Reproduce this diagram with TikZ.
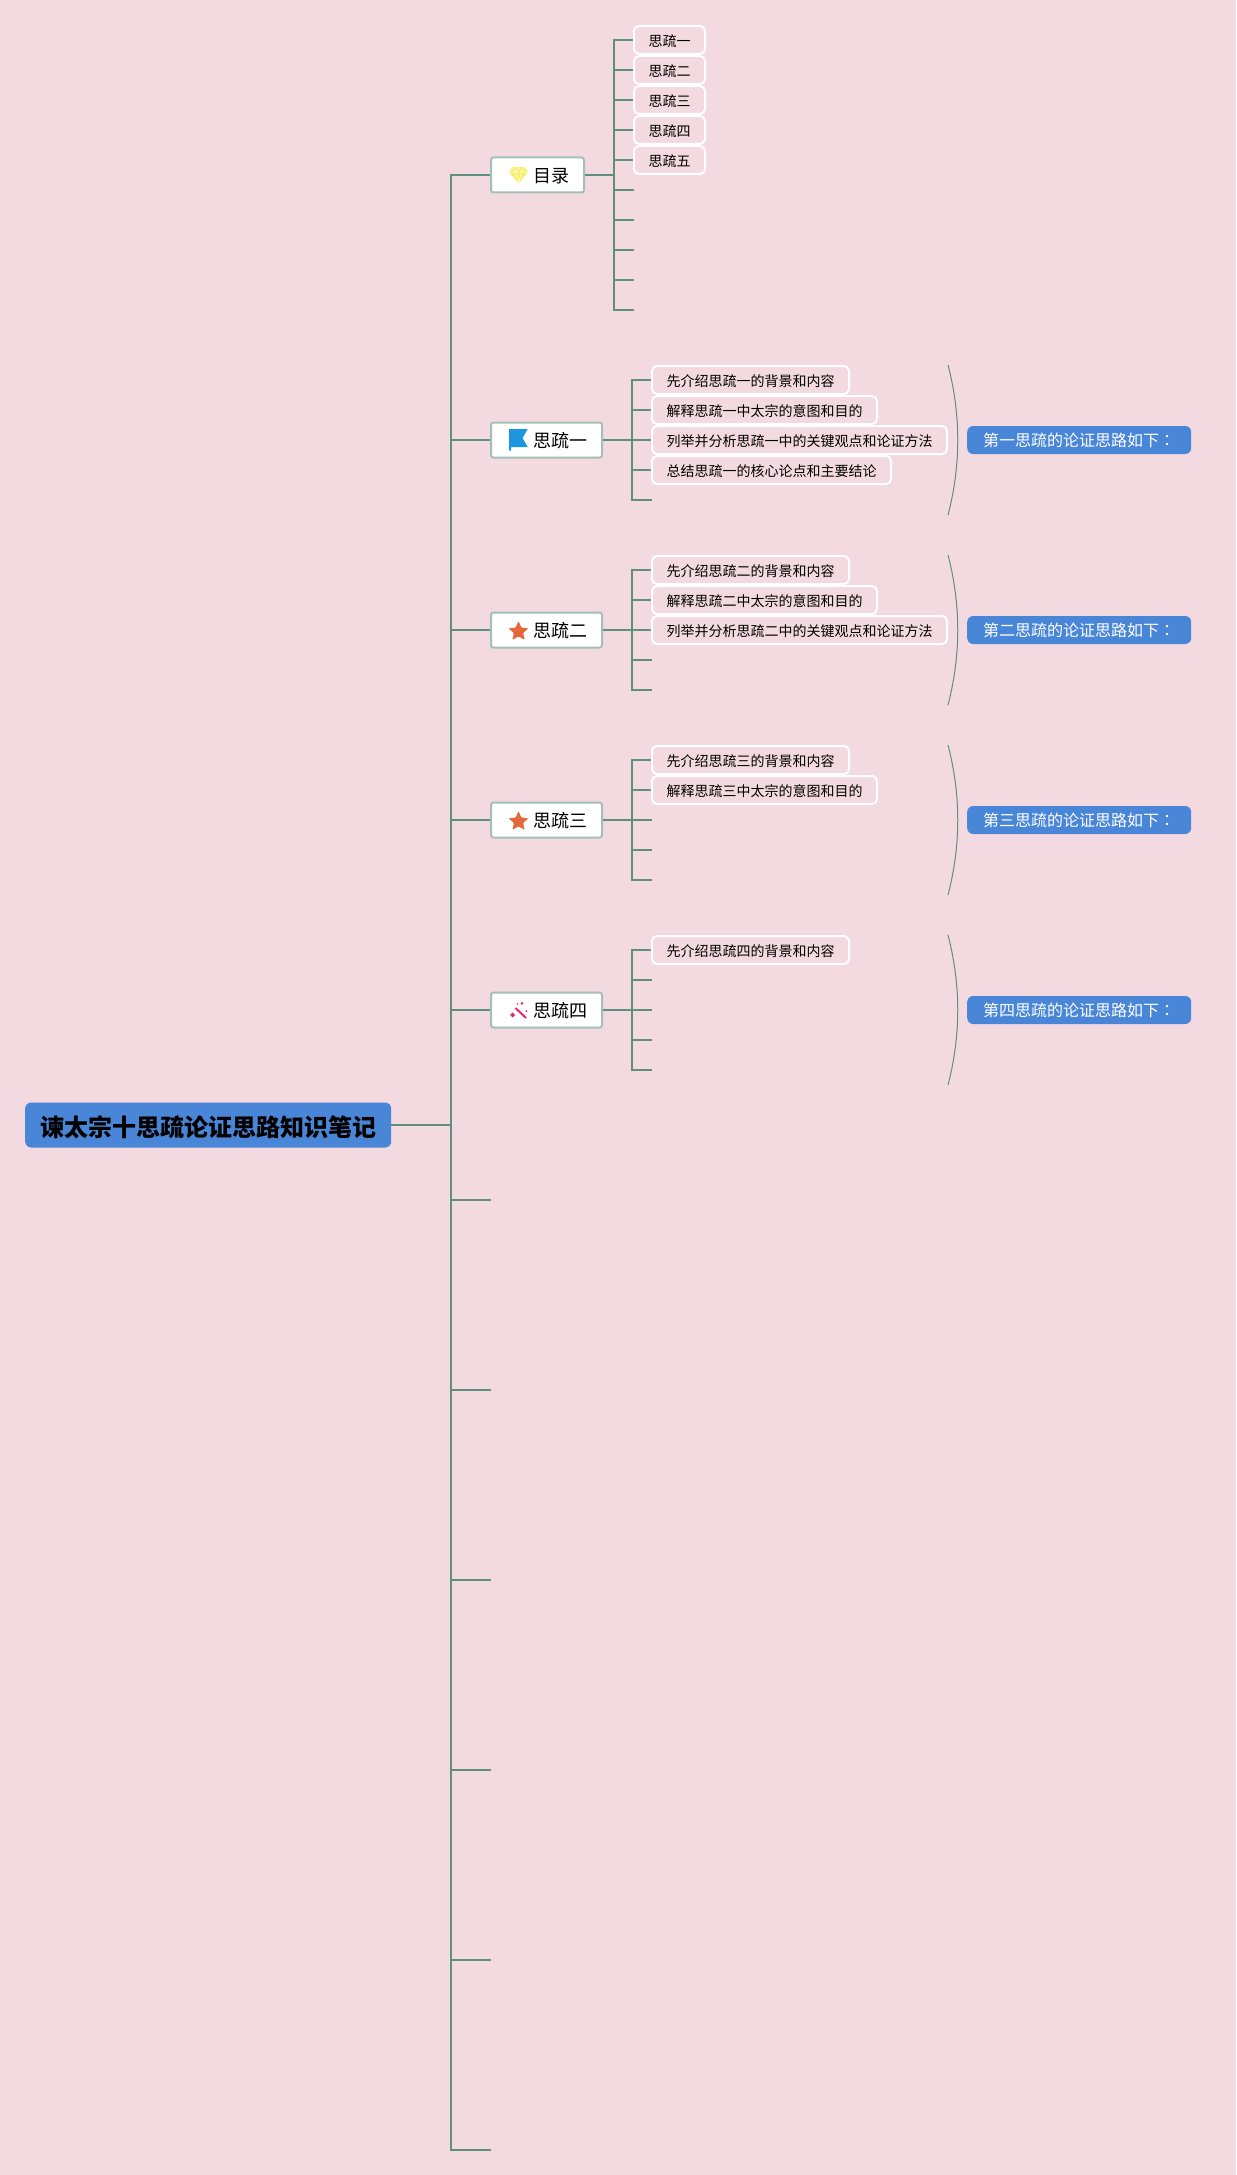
\documentclass[tikz,border=0pt]{standalone}
\usepackage{fontspec}
\setmainfont{Noto Sans CJK SC}
\newfontfamily\tcfont{Noto Sans CJK TC}
\definecolor{bgpink}{HTML}{F3DAE1}
\definecolor{linkgreen}{HTML}{5F8F80}
\definecolor{boxgreen}{HTML}{A3BFB6}
\definecolor{capblue}{HTML}{4A86D8}
\definecolor{gemyellow}{HTML}{F8EE6E}
\definecolor{flagblue}{HTML}{1B96DF}
\definecolor{starorange}{HTML}{E5683A}
\definecolor{wandpink}{HTML}{E5286C}
\newcommand{\cnnum}[1]{\ifcase#1\or 一\or 二\or 三\or 四\or 五\fi}
\tikzset{%
  rootnode/.style   = {shape=rectangle, rounded corners=6pt, fill=capblue, anchor=west,%
                       minimum height=45pt, inner xsep=15pt, inner ysep=0pt, text height=26pt, text depth=3pt,%
                       font=\fontsize{24}{26}\selectfont\bfseries},%
  branchnode/.style = {shape=rectangle, rounded corners=2.5pt, draw=boxgreen, fill=white, line width=2pt, anchor=west,%
                       minimum height=35pt, inner xsep=15pt, inner ysep=0pt, text height=17.5pt, text depth=1.7pt,%
                       execute at begin node=\hspace*{27pt},%
                       font=\fontsize{18}{20}\selectfont},%
  leafnode/.style   = {shape=rectangle, rounded corners=5pt, draw=white, line width=2pt, anchor=west,%
                       minimum height=28pt, inner xsep=14.5pt, inner ysep=0pt, text height=14pt, text depth=.2pt,%
                       font=\fontsize{14}{16}\selectfont},%
  notenode/.style   = {shape=rectangle, rounded corners=6pt, fill=capblue, text=white, anchor=west,%
                       minimum height=28pt, inner xsep=16pt, inner ysep=0pt, text height=14pt, text depth=2pt,%
                       font=\fontsize{16}{18}\selectfont},%
  link/.style       = {draw=linkgreen, line width=2pt},%
  brace/.style      = {draw=linkgreen!80!gray, line width=1pt},%
  gemmark/.pic      = {\fill[gemyellow] (-6,-8) -- (6,-8) -- (9.5,-3) -- (0,8.5) -- (-9.5,-3) -- cycle;
                       \draw[white!70!gemyellow, line width=.6pt] (-9.5,-3) -- (9.5,-3) (-6,-8) -- (-3,-3) -- (0,-8) -- (3,-3) -- (6,-8) (-3,-3) -- (0,8.5) -- (3,-3);},%
  flagmark/.pic     = {\fill[flagblue] (-9.5,-11) -- (9.2,-11) -- (4,-2) -- (9.2,7) -- (-7.5,7) -- (-7.5,10.5) -- (-9.5,10.5) -- cycle;},%
  starmark/.pic     = {\fill[starorange, rounded corners=1pt, shift={(0,1.5)}] (0,-10.5) -- (2.82,-3.88) -- (9.99,-3.24) -- (4.57,1.48) -- (6.17,8.49) -- (0,4.8) -- (-6.17,8.49) -- (-4.57,1.48) -- (-9.99,-3.24) -- (-2.82,-3.88) -- cycle;},%
  wandmark/.pic     = {\draw[wandpink, line width=2pt] (-3,-2) -- (7.5,8);
                       \fill[wandpink] (-5.8,2.5) -- (-3.3,5) -- (-5.8,7.5) -- (-8.3,5) -- cycle (3.5,-6.7) circle (1.5) (8,1) circle (1) (-1,-6) circle (.8);}%
}
\begin{document}
\begin{tikzpicture}[x=1pt,y=-1pt]
		\useasboundingbox (0,0) rectangle (1236,2175);
		\fill[bgpink] (0,0) rectangle (1236,2175);
		\node[rootnode] (root) at (25,1125) {谏太宗十思疏论证思路知识笔记};
		\coordinate (trunk) at (451,1125);
		\draw[link] (root.east) -- (trunk);
		\node[branchnode] (catalog) at (490,175) {目录};
		\pic at (518.5,175) {gemmark};
		\draw[link] (trunk) |- (catalog.west);
		\coordinate (spine0) at (614,175);
		\draw[link] (catalog.east) -- (spine0);
		\foreach \k in {1,...,10}{
			\coordinate (tick0\k) at (634,{10+30*\k});
			\draw[link] (spine0) |- (tick0\k);
		}
		\foreach \k in {1,...,5}
			\node[leafnode] (toc\k) at (633,{10+30*\k}) {思疏\cnnum{\k}};
		\foreach \g/\ny/\mk in {1/440/flagmark,2/630/starmark,3/820/starmark,4/1010/wandmark}{
			\node[branchnode] (sub\g) at (490,\ny) {思疏\cnnum{\g}};
			\pic at (518.5,\ny) {\mk};
			\draw[link] (trunk) |- (sub\g.west);
			\coordinate (spine\g) at (632,\ny);
			\draw[link] (sub\g.east) -- (spine\g);
			\foreach \k in {1,...,5}{
				\coordinate (tick\g\k) at (652,{\ny-90+30*\k});
				\draw[link] (spine\g) |- (tick\g\k);
			}
			\foreach \k/\head/\tail in {1/先介绍思疏/的背景和内容,2/解释思疏/中太宗的意图和目的,3/列举并分析思疏/中的关键观点和论证方法,4/总结思疏/的核心论点和主要结论}{
				\ifnum\numexpr\k+\g\relax>5 \else
					\node[leafnode] (leaf\g\k) at (651,{\ny-90+30*\k}) {\head\cnnum{\g}\tail};
				\fi
			}
			\coordinate (bracetop\g) at (948,{\ny-75});
			\coordinate (bracebot\g) at (948,{\ny+75});
			\draw[brace] (bracetop\g) .. controls (961,{\ny-25}) and (961,{\ny+25}) .. (bracebot\g);
			\node[notenode] (note\g) at (967,\ny) {第\cnnum{\g}思疏的论证思路如下{\tcfont ：}};
		}
		\foreach \j/\fy in {1/1200,2/1390,3/1580,4/1770,5/1960,6/2150}{
			\coordinate (free\j) at (491,\fy);
			\draw[link] (trunk) |- (free\j);
		}
		\end{tikzpicture}
\end{document}
